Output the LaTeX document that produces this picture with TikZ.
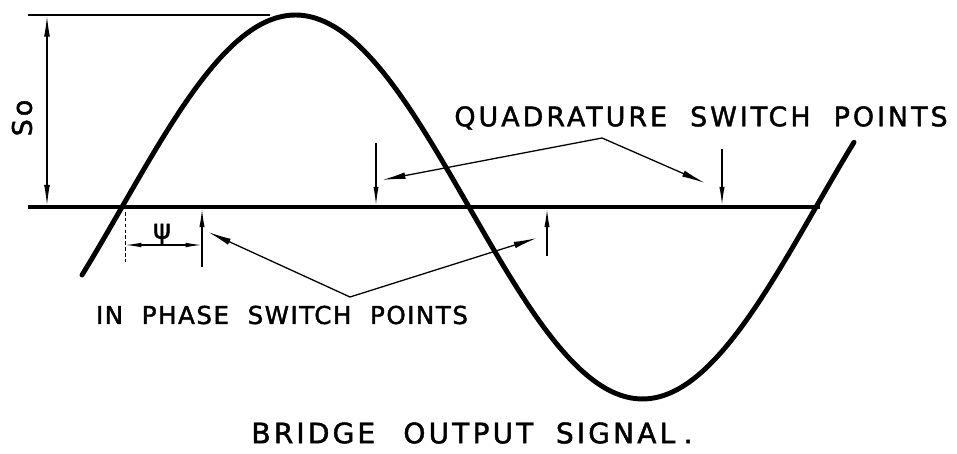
\documentclass[tikz,border=0pt]{standalone}
\usepackage{fontspec}
\usepackage{tikz}
\usetikzlibrary{arrows.meta}
\newfontfamily\lettering[LetterSpace=11, FakeBold=1.6]{DejaVu Sans}
\newfontfamily\letteringtight[LetterSpace=6, FakeBold=1.6]{DejaVu Sans}

\begin{document}
\begin{tikzpicture}[
        x=0.03cm, y=-0.03cm,
        signal/.style={line width=4.2pt, line cap=round},
        zeroline/.style={line width=2.8pt},
        dimline/.style={line width=1.4pt},
        dimarrow/.style={line width=1.2pt, {Latex[length=18pt, width=5pt]}-{Latex[length=18pt, width=5pt]}},
        pointer/.style={line width=1.1pt, -{Latex[length=16pt, width=4.5pt]}},
        leader/.style={line width=1.1pt, -{Latex[length=20pt, width=5.5pt]}},
        heading/.style={font=\lettering\fontsize{23}{26}\selectfont, inner sep=0pt},
        subheading/.style={font=\letteringtight\fontsize{21}{24}\selectfont, inner sep=0pt},
        title/.style={font=\lettering\fontsize{24}{28}\selectfont, inner sep=0pt},
      ]
      \useasboundingbox (0, 0) rectangle (957, 454);

      % Signal and reference lines
      \draw [signal] plot [domain=82:854, samples=160] (\x, {207-192*sin((\x-122)/347*180)});
      \draw [zeroline] (28, 207) -- (820, 207);
      \draw [dimline] (28, 15) -- (270, 15);

      % Amplitude
      \coordinate (amptop) at (47, 15.5);
      \coordinate (ampbot) at (47, 206);
      \draw [dimarrow] (amptop) -- (ampbot);
      \node [heading, rotate=90] (amp) at (22, 118) {So};

      % Phase angle
      \draw [line width=0.8pt, densely dashed] (125, 212) -- (125, 262);
      \coordinate (psileft) at (125, 245);
      \coordinate (psiright) at (202, 245);
      \draw [line width=1.1pt, {Latex[length=14pt, width=4pt]}-{Latex[length=14pt, width=4pt]}] (psileft) -- (psiright);
      \node [heading, fill=white, inner xsep=2pt] (psi) at (162, 234) {ψ};

      % In phase switch points
      \coordinate (ipa) at (202, 267);
      \coordinate (ipatip) at (202, 208.5);
      \coordinate (ipb) at (547, 256);
      \coordinate (ipbtip) at (547, 208.5);
      \draw [pointer] (ipa) -- (ipatip);
      \draw [pointer] (ipb) -- (ipbtip);

      % Quadrature switch points
      \coordinate (qa) at (376, 143);
      \coordinate (qatip) at (376, 205.5);
      \coordinate (qb) at (722, 149);
      \coordinate (qbtip) at (722, 205.5);
      \draw [pointer] (qa) -- (qatip);
      \draw [pointer] (qb) -- (qbtip);

      % Leaders
      \coordinate (qvertex) at (602, 138);
      \draw [leader] (qvertex) -- (382, 180);
      \draw [leader] (qvertex) -- (705, 183);
      \coordinate (ipvertex) at (350, 297);
      \draw [leader] (ipvertex) -- (208, 232);
      \draw [leader] (ipvertex) -- (537, 238);

      % Labels
      \node [heading] (quadlabel) at (701, 118) {QUADRATURE~ SWITCH~ POINTS};
      \node [subheading] (inphaselabel) at (282, 315) {IN~ PHASE~ SWITCH~ POINTS};
      \node [title] (caption) at (472, 433) {BRIDGE\hspace{1em}OUTPUT\hspace{0.8em}SIGNAL\hspace{0.3em}.};
    \end{tikzpicture}
\end{document}
